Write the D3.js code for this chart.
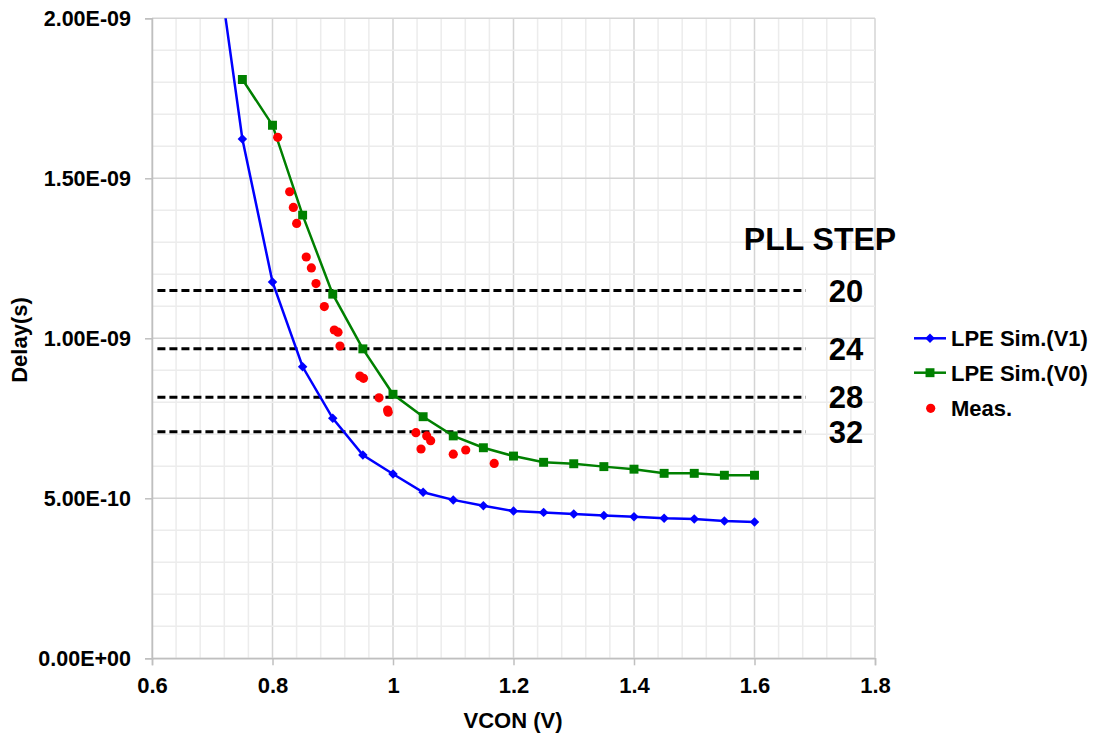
<!DOCTYPE html>
<html>
<head>
<meta charset="utf-8">
<script src="https://cdn.jsdelivr.net/npm/d3@7"></script>
<style>
  html, body { margin: 0; padding: 0; background: #fff; }
  svg { display: block; font-family: Arial, "Liberation Sans", sans-serif; font-weight: bold; }
</style>
</head>
<body>
<svg id="chart" width="1098" height="734"></svg>
<script>
// ---------- data ----------
const vSim = [0.70, 0.75, 0.80, 0.85, 0.90, 0.95, 1.00, 1.05, 1.10, 1.15, 1.20, 1.25, 1.30, 1.35, 1.40, 1.45, 1.50, 1.55, 1.60];
const delayV1 = [2.30e-9, 1.623e-9, 1.176e-9, 0.911e-9, 0.750e-9, 0.635e-9, 0.576e-9, 0.519e-9, 0.495e-9, 0.477e-9,
                 0.460e-9, 0.456e-9, 0.451e-9, 0.446e-9, 0.4425e-9, 0.4375e-9, 0.435e-9, 0.429e-9, 0.426e-9];
const vSimV0 = [0.75, 0.80, 0.85, 0.90, 0.95, 1.00, 1.05, 1.10, 1.15, 1.20, 1.25, 1.30, 1.35, 1.40, 1.45, 1.50, 1.55, 1.60];
const delayV0 = [1.809e-9, 1.666e-9, 1.385e-9, 1.138e-9, 0.967e-9, 0.825e-9, 0.755e-9, 0.695e-9, 0.658e-9, 0.632e-9,
                 0.6125e-9, 0.608e-9, 0.599e-9, 0.591e-9, 0.578e-9, 0.578e-9, 0.572e-9, 0.572e-9];
const vMeas = [0.8086, 0.8285, 0.8346, 0.8401, 0.856, 0.8645, 0.8722, 0.886, 0.9026, 0.9087, 0.912, 0.945, 0.951,
               0.9768, 0.991, 0.992, 1.038, 1.0465, 1.056, 1.0625, 1.100, 1.1207, 1.168];
const delayMeas = [1.628e-9, 1.458e-9, 1.409e-9, 1.359e-9, 1.254e-9, 1.220e-9, 1.171e-9, 1.099e-9, 1.026e-9, 1.019e-9, 0.976e-9, 0.882e-9, 0.875e-9,
                   0.814e-9, 0.776e-9, 0.769e-9, 0.705e-9, 0.654e-9, 0.695e-9, 0.680e-9, 0.638e-9, 0.651e-9, 0.609e-9];
const pllSteps = ["20", "24", "28", "32"];
const pllDelay = [1.149e-9, 0.967e-9, 0.8156e-9, 0.708e-9];
const xTicks = [0.6, 0.8, 1.0, 1.2, 1.4, 1.6, 1.8];
const xTickLabels = ["0.6", "0.8", "1", "1.2", "1.4", "1.6", "1.8"];
const yTicks = [0, 0.5e-9, 1.0e-9, 1.5e-9, 2.0e-9];
const yTickLabels = ["0.00E+00", "5.00E-10", "1.00E-09", "1.50E-09", "2.00E-09"];
const seriesNames = ["LPE Sim.(V1)", "LPE Sim.(V0)", "Meas."];
const seriesColors = ["#0000ff", "#008000", "#ff0000"];

// ---------- layout ----------
const svg = d3.select("#chart");
const L = 152, R = 875, T = 18.3, B = 658.3;
const x = d3.scaleLinear().domain([0.6, 1.8]).range([L, R]);
const y = d3.scaleLinear().domain([0, 2e-9]).range([B, T]);

// grid
const grid = svg.append("g");
const xMinor = d3.range(0, 31).map(i => 0.6 + i * 0.04);
const yMinor = d3.range(0, 21).map(i => i * 1e-10);
grid.selectAll(".xm").data(xMinor).enter().append("line")
  .attr("x1", d => x(d)).attr("x2", d => x(d)).attr("y1", T).attr("y2", B)
  .attr("stroke", (d, i) => i % 5 === 0 ? "#d4d4d4" : "#ececec").attr("stroke-width", 1.5);
grid.selectAll(".ym").data(yMinor).enter().append("line")
  .attr("x1", L).attr("x2", R).attr("y1", d => y(d)).attr("y2", d => y(d))
  .attr("stroke", (d, i) => i % 5 === 0 ? "#d4d4d4" : "#ececec").attr("stroke-width", 1.5);

// axes
const xAxis = d3.axisBottom(x).tickValues(xTicks).tickFormat((d, i) => xTickLabels[i]).tickSize(7).tickPadding(12);
const gx = svg.append("g").attr("transform", `translate(0,${B})`).call(xAxis);
gx.select(".domain").attr("stroke", "#bfbfbf").attr("stroke-width", 1.5);
gx.selectAll(".tick line").attr("stroke", "#bfbfbf").attr("stroke-width", 1.5);
gx.selectAll(".tick text").attr("font-size", 22).attr("font-weight", "bold").attr("fill", "#000")
  .attr("font-family", "Arial, 'Liberation Sans', sans-serif");

const yAxis = d3.axisLeft(y).tickValues(yTicks).tickFormat((d, i) => yTickLabels[i]).tickSize(7).tickPadding(14);
const gy = svg.append("g").attr("transform", `translate(${L},0)`).call(yAxis);
gy.select(".domain").attr("stroke", "#bfbfbf").attr("stroke-width", 1.5);
gy.selectAll(".tick line").attr("stroke", "#bfbfbf").attr("stroke-width", 1.5);
gy.selectAll(".tick text").attr("font-size", 21.5).attr("font-weight", "bold").attr("fill", "#000")
  .attr("font-family", "Arial, 'Liberation Sans', sans-serif");

// axis titles
svg.append("text").attr("x", 513).attr("y", 728).attr("text-anchor", "middle")
  .attr("font-size", 22).text("VCON (V)");
svg.append("text").attr("transform", "translate(27,340) rotate(-90)").attr("text-anchor", "middle")
  .attr("font-size", 22).text("Delay(s)");

// clip
svg.append("clipPath").attr("id", "plotclip").append("rect")
  .attr("x", L).attr("y", T).attr("width", R - L).attr("height", B - T);
const plot = svg.append("g").attr("clip-path", "url(#plotclip)");

// dashed PLL lines
plot.selectAll(".pll").data(pllDelay).enter().append("line")
  .attr("x1", x(0.609)).attr("x2", x(1.685))
  .attr("y1", d => y(d)).attr("y2", d => y(d))
  .attr("stroke", "#000").attr("stroke-width", 3).attr("stroke-dasharray", "8,4");

// lines
const line = d3.line().x(d => x(d[0])).y(d => y(d[1]));
const dV1 = vSim.map((v, i) => [v, delayV1[i]]);
const dV0 = vSimV0.map((v, i) => [v, delayV0[i]]);
plot.append("path").datum(dV1).attr("d", line).attr("fill", "none")
  .attr("stroke", seriesColors[0]).attr("stroke-width", 2.5);
plot.append("path").datum(dV0).attr("d", line).attr("fill", "none")
  .attr("stroke", seriesColors[1]).attr("stroke-width", 2.5);

const diamond = d3.symbol(d3.symbolSquare, 45)();
const square = d3.symbol(d3.symbolSquare, 80)();
plot.selectAll(".v1m").data(dV1).enter().append("path").attr("d", diamond)
  .attr("transform", d => `translate(${x(d[0])},${y(d[1])}) rotate(45)`).attr("fill", seriesColors[0]);
plot.selectAll(".v0m").data(dV0).enter().append("path").attr("d", square)
  .attr("transform", d => `translate(${x(d[0])},${y(d[1])})`).attr("fill", seriesColors[1]);
plot.selectAll(".meas").data(vMeas.map((v, i) => [v, delayMeas[i]])).enter().append("circle")
  .attr("cx", d => x(d[0])).attr("cy", d => y(d[1])).attr("r", 4.6).attr("fill", seriesColors[2]);

// PLL STEP labels
svg.append("text").attr("x", 820).attr("y", 250).attr("text-anchor", "middle")
  .attr("font-size", 32).text("PLL STEP");
svg.selectAll(".step").data(pllSteps).enter().append("text")
  .attr("x", 846).attr("y", (d, i) => y(pllDelay[i]) + 11).attr("text-anchor", "middle")
  .attr("font-size", 31).text(d => d);

// legend
const legY = [338.3, 372.7, 408.3];
const leg = svg.append("g");
[0, 1].forEach(i => {
  leg.append("line").attr("x1", 914).attr("x2", 946).attr("y1", legY[i]).attr("y2", legY[i])
    .attr("stroke", seriesColors[i]).attr("stroke-width", 2.5);
});
leg.append("path").attr("d", diamond).attr("transform", `translate(930,${legY[0]}) rotate(45)`).attr("fill", seriesColors[0]);
leg.append("path").attr("d", square).attr("transform", `translate(930,${legY[1]})`).attr("fill", seriesColors[1]);
leg.append("circle").attr("cx", 930.7).attr("cy", legY[2]).attr("r", 4.6).attr("fill", seriesColors[2]);
seriesNames.forEach((n, i) => {
  leg.append("text").attr("x", 951).attr("y", legY[i] + 8).attr("font-size", 22).text(n);
});
</script>
</body>
</html>
